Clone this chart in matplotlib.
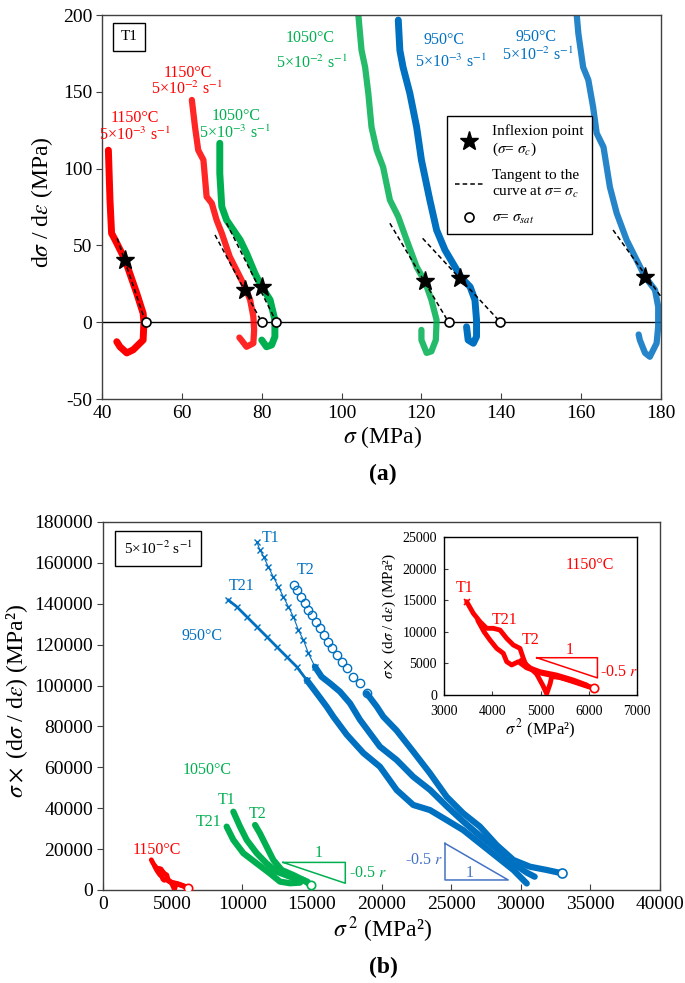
import numpy as np
import matplotlib.pyplot as plt
from matplotlib.lines import Line2D

plt.rcParams['font.family'] = ['Liberation Serif', 'DejaVu Serif']
plt.rcParams['mathtext.fontset'] = 'stix'
plt.rcParams['axes.unicode_minus'] = False

W, H = 685, 983
RED = '#ff0000'
GREEN = '#00b050'
BLUE = '#0070c0'
BLUE2 = '#4472c4'
FRAME = '#404040'

# ---------- (a) T1 : dsigma/deps vs sigma (MPa) ----------
s_1150_slow = [41.6, 42.0, 42.4, 43.3, 45.8, 48.7, 50.3, 50.5, 50.3, 47.8, 46.2, 44.5, 43.7]
d_1150_slow = [112, 79.6, 57.9, 53.5, 40.5, 18.8, 5.8, 0, -11.6, -18, -20, -16, -12.7]

s_1150_fast = [62.5, 63.3, 64.1, 65.4, 66.2, 67.5, 68.7, 70.0, 72.0, 74.1, 75.8, 77.1, 77.9, 78.1, 77.9, 76.2, 74.9, 74.4]
d_1150_fast = [144.7, 127, 112, 105.6, 81.7, 77.4, 66.5, 57.9, 42.6, 31.8, 23, 14.5, 3.7, -5, -13.7, -16, -11.6, -10]

s_1050_slow = [69.5, 69.5, 70.0, 71.2, 72.9, 74.6, 76.2, 78.3, 80.0, 82.1, 83.3, 83.3, 82.5, 81.2, 80.0]
d_1050_slow = [116.5, 96.9, 75.2, 66.5, 60, 53.5, 44.9, 31.8, 23, 14.5, 1.4, -9.4, -14.8, -16, -11.6]

s_1050_fast = [104.2, 105.0, 105.9, 106.7, 107.5, 108.8, 110.4, 112.1, 114.2, 116.3, 118.8, 120.9, 122.5, 123.8, 123.6, 122.5, 121.3, 120.0, 120.0]
d_1050_fast = [200, 177, 166, 149, 127, 112, 101, 79.6, 68.7, 53.5, 36, 26.4, 14.5, 1.4, -11.6, -19, -20, -11.6, -5]

s_950_slow = [114.2, 114.6, 115.4, 117.1, 118.8, 120.0, 122.1, 123.8, 125.9, 128.4, 130.1, 132.2, 133.4, 133.8, 133.8, 133.0, 131.7, 131.3]
d_950_slow = [196.7, 177, 166, 149, 127, 105.6, 79.6, 60, 47, 36, 28.6, 23, 14.5, 1.4, -9.4, -13.7, -11.6, -3]

s_950_fast = [158.9, 159.3, 160.5, 161.8, 163.0, 163.9, 165.6, 167.2, 168.9, 171.4, 173.9, 176.0, 178.5, 179.3, 179.3, 178.9, 177.2, 176.0, 174.7, 174.4]
d_950_fast = [200, 188, 166, 157.7, 140, 123, 114, 88, 71, 53.5, 40.5, 29.6, 21, 10, -2.8, -13.7, -22.5, -20, -11.6, -8]

star_s = [45.8, 75.8, 80.0, 120.9, 129.7, 176.0]
star_d = [40.5, 21.0, 22.6, 26.8, 28.6, 29.6]
sat_s = [50.9, 80.0, 83.7, 126.8, 139.8]
tan_s = [(43.8, 50.9), (68.3, 80.0), (71.2, 83.7), (112.1, 126.8), (120.3, 139.8), (168.0, 180.0)]
tan_d = [(54.6, 0), (56.8, 0), (64.4, 0), (64.4, 0), (54.6, 0), (60.0, 16.6)]

# ---------- (b) sigma*(dsigma/deps) vs sigma^2, 5e-2 s-1 ----------
x950_T1 = [11040, 11270, 11560, 11870, 12230, 12590, 12950, 13310, 13670, 14030, 14390, 14750, 15220, 15700,
           16300, 17020, 17740, 18460, 19890, 21090, 22280, 23480, 24680, 25870, 27070, 28270, 29470, 30430, 31000]
y950_T1 = [170400, 166300, 162700, 158100, 153200, 148400, 143500, 138600, 133700, 127200, 122300, 115800, 109200, 104300,
           101100, 97000, 91300, 83200, 70100, 63600, 55400, 49000, 41000, 33500, 26500, 20000, 13000, 8500, 6500]
x950_T2 = [13720, 13960, 14200, 14510, 14750, 14990, 15300, 15580, 15870, 16180, 16470, 16780, 17140, 17500, 17980,
           18460, 18940, 19660, 20130, 21090, 22280, 23480, 24680, 25870, 27070, 28270, 29470, 30660, 31860, 32940]
y950_T2 = [149200, 146700, 143500, 140200, 137000, 134500, 131200, 128000, 124700, 121500, 118200, 114900, 111700, 108400, 104300,
           101100, 96200, 89700, 84800, 78000, 67700, 57100, 45600, 37500, 31000, 22000, 14700, 11400, 9800, 8200]
x950_T21 = [9000, 9600, 10320, 11040, 11760, 12470, 13190, 13910, 14630, 15350, 16060, 16540, 17500, 18700, 19890,
            21090, 22280, 23480, 24680, 25870, 27070, 28270, 29470, 30430]
y950_T21 = [141800, 138600, 133700, 128800, 123900, 119000, 114100, 109200, 102700, 96200, 89700, 84800, 76000, 67000, 60300,
            48900, 41600, 39100, 34200, 29300, 22800, 16300, 9800, 3200]

x1050_T1 = [9360, 9840, 10320, 11040, 11750, 12470, 13430, 14390, 14700]
y1050_T1 = [38300, 31000, 24500, 18000, 13000, 9000, 6500, 4900, 4000]
x1050_T2 = [10920, 11270, 11750, 12230, 12830, 13670, 14390, 14920]
y1050_T2 = [31800, 27700, 21200, 14700, 9800, 7300, 4900, 2400]
x1050_T21 = [8880, 9360, 10080, 11040, 11990, 12710, 13430, 14150]
y1050_T21 = [31000, 24500, 18000, 13000, 8100, 4100, 3300, 3600]

x1150_T1 = [3470, 3608, 3746, 3884, 4022, 4161, 4299, 4437, 4575, 4644, 4713, 4990, 5335, 5680, 5957]
y1150_T1 = [14760, 12920, 11600, 10550, 10550, 10280, 8960, 7910, 7380, 5800, 4480, 3690, 3160, 2370, 1580]
x1150_T21 = [3700, 3830, 3953, 4092, 4230, 4299, 4403, 4541, 4713, 4990, 5335, 5680, 5957, 6109]
y1150_T21 = [11800, 10000, 8700, 7380, 6590, 5270, 4750, 5270, 4300, 3500, 2900, 2200, 1500, 1060]
x1150_T2 = [4600, 4800, 4921, 5050, 5128, 5200, 5232, 5400, 5680, 5957, 6109]
y1150_T2 = [5500, 4200, 3300, 1500, 200, 1800, 2900, 2800, 2100, 1400, 1060]

tri_green_x = [12930, 17400, 17400, 12930]
tri_green_y = [13500, 13500, 3300, 13500]
tri_blue_x = [24560, 24560, 29100, 24560]
tri_blue_y = [22800, 4900, 4900, 22800]
tri_red_x = [4921, 6180, 6180, 4921]
tri_red_y = [5900, 5900, 2700, 5900]

fig = plt.figure(figsize=(W / 100, H / 100), dpi=100)


def box(l, t, r, b):
    return [l / W, 1 - b / H, (r - l) / W, (b - t) / H]


def ftxt(px, py, s, **kw):
    kw.setdefault('ha', 'center')
    kw.setdefault('va', 'center')
    fig.text(px / W, 1 - py / H, s, **kw)


def style(ax, size=14):
    for sp in ax.spines.values():
        sp.set_color(FRAME)
        sp.set_linewidth(1.0)
    ax.tick_params(axis='x', direction='in', length=4, labelsize=size, color=FRAME, pad=4)
    ax.tick_params(axis='y', direction='out', length=4, labelsize=size, color=FRAME, pad=3)


# ---------------- panel (a) ----------------
ax = fig.add_axes(box(102, 15, 661, 399))
ax.axhline(0, color='black', lw=1, zorder=1)
curve = dict(lw=5, solid_capstyle='round', solid_joinstyle='round', zorder=2)
hatch = dict(lw=4.5, alpha=0.85, solid_capstyle='round', solid_joinstyle='round', zorder=2)
ax.plot(s_1150_slow, d_1150_slow, color=RED, **curve)
ax.plot(s_1150_fast, d_1150_fast, color=RED, **hatch)
ax.plot(s_1050_slow, d_1050_slow, color=GREEN, **curve)
ax.plot(s_1050_fast, d_1050_fast, color=GREEN, **hatch)
ax.plot(s_950_slow, d_950_slow, color=BLUE, **curve)
ax.plot(s_950_fast, d_950_fast, color=BLUE, **hatch)
for xs, ys in zip(tan_s, tan_d):
    ax.plot(xs, ys, color='black', lw=1.1, dashes=(3, 2), zorder=3)
ax.plot(star_s, star_d, '*', ms=14, color='black', zorder=5)
ax.plot(sat_s, [0] * len(sat_s), 'o', ms=6.5, mfc='white', mec='black', mew=1.2, zorder=5)
ax.set_xlim(40, 180)
ax.set_ylim(-50, 200)
ax.set_xticks(np.arange(40, 181, 20))
ax.set_yticks(np.arange(-50, 201, 50))
style(ax)

handles = [Line2D([], [], ls='none', marker='*', ms=14, color='black'),
           Line2D([], [], color='black', lw=1.1, dashes=(3, 2)),
           Line2D([], [], ls='none', marker='o', ms=6.5, mfc='white', mec='black', mew=1.2)]
labels = ['Inflexion point\n($\\sigma$= $\\sigma_c$)',
          'Tangent to the\ncurve at $\\sigma$= $\\sigma_c$',
          '$\\sigma$= $\\sigma_{sat}$']
leg = ax.legend(handles, labels, loc='upper left',
                bbox_to_anchor=((447 - 102) / 559, (399 - 116) / 384), borderaxespad=0,
                fontsize=11, frameon=True, fancybox=False, edgecolor='black', framealpha=1,
                handlelength=1.8, labelspacing=0.75, borderpad=0.55, handletextpad=0.6)
leg.get_frame().set_linewidth(1.0)

ax.text(0.048, 0.943, 'T1', transform=ax.transAxes, fontsize=11, ha='center', va='center',
        bbox=dict(boxstyle='square,pad=0.5', fc='white', ec='black', lw=1))

ftxt(135, 118, '1150°C', color=RED, fontsize=11.5)
ftxt(135, 135, '5×10$^{-3}$ s$^{-1}$', color=RED, fontsize=11.5)
ftxt(187.5, 73, '1150°C', color=RED, fontsize=11.5)
ftxt(186.5, 89.5, '5×10$^{-2}$ s$^{-1}$', color=RED, fontsize=11.5)
ftxt(236, 116, '1050°C', color=GREEN, fontsize=11.5)
ftxt(234.5, 133.5, '5×10$^{-3}$ s$^{-1}$', color=GREEN, fontsize=11.5)
ftxt(310, 38, '1050°C', color=GREEN, fontsize=11.5)
ftxt(311.5, 63, '5×10$^{-2}$ s$^{-1}$', color=GREEN, fontsize=11.5)
ftxt(444, 40, '950°C', color=BLUE, fontsize=11.5)
ftxt(451, 62, '5×10$^{-3}$ s$^{-1}$', color=BLUE, fontsize=11.5)
ftxt(535.5, 37, '950°C', color=BLUE, fontsize=11.5)
ftxt(537.5, 55, '5×10$^{-2}$ s$^{-1}$', color=BLUE, fontsize=11.5)

ftxt(42, 202, 'd$\\sigma$ / d$\\varepsilon$ (MPa)', fontsize=17, rotation=90)
ftxt(383, 437, '$\\sigma$ (MPa)', fontsize=17)
ftxt(383, 474, '(a)', fontsize=17, fontweight='bold')

# ---------------- panel (b) ----------------
bx = fig.add_axes(box(103, 522, 660, 890))


def blue_curve(x, y, marker, ms, dense_from):
    x = np.asarray(x, float)
    y = np.asarray(y, float)
    m = x >= dense_from
    bx.plot(x[~m], y[~m], ls='none', marker=marker, ms=ms, mfc='none', mec=BLUE, mew=1.0, zorder=3)
    k = max(np.argmax(m) - 1, 0)
    bx.plot(x[k:], y[k:], color=BLUE, lw=4.5, solid_capstyle='round', solid_joinstyle='round', zorder=3)


bx.plot(x950_T1[:18], y950_T1[:18], color=BLUE, lw=0.8, zorder=2)
blue_curve(x950_T1, y950_T1, 'x', 4.5, 15600)
blue_curve(x950_T2, y950_T2, 'o', 6, 19000)
bx.plot(x950_T21, y950_T21, color=BLUE, lw=2, zorder=2)
blue_curve(x950_T21, y950_T21, 'x', 5, 15000)
bx.plot(x950_T2[-1], y950_T2[-1], 'o', ms=6.5, mfc='white', mec=BLUE, mew=1.2, zorder=4)

g = dict(color=GREEN, lw=4.5, solid_capstyle='round', solid_joinstyle='round', zorder=3)
bx.plot(x1050_T1, y1050_T1, **g)
bx.plot(x1050_T2, y1050_T2, **g)
bx.plot(x1050_T21, y1050_T21, **g)
bx.plot(x1050_T2[-1], y1050_T2[-1], 'o', ms=6, mfc='white', mec=GREEN, mew=1.2, zorder=4)

r = dict(color=RED, lw=3.5, solid_capstyle='round', solid_joinstyle='round', zorder=3)
bx.plot(x1150_T1, y1150_T1, **r)
bx.plot(x1150_T21, y1150_T21, **r)
bx.plot(x1150_T2, y1150_T2, **r)
bx.plot(x1150_T2[-1], y1150_T2[-1], 'o', ms=6, mfc='white', mec=RED, mew=1.2, zorder=4)

bx.plot(tri_green_x, tri_green_y, color=GREEN, lw=1.1, zorder=2)
bx.plot(tri_blue_x, tri_blue_y, color=BLUE2, lw=1.1, zorder=2)

bx.set_xlim(0, 40000)
bx.set_ylim(0, 180000)
bx.set_xticks(np.arange(0, 40001, 5000))
bx.set_yticks(np.arange(0, 180001, 20000))
style(bx)

ftxt(158, 548.5, '5×10$^{-2}$ s$^{-1}$', fontsize=11,
     bbox=dict(boxstyle='square,pad=0.55', fc='white', ec='black', lw=1))
ftxt(271, 537.5, 'T1', color=BLUE, fontsize=11.5)
ftxt(306, 570, 'T2', color=BLUE, fontsize=11.5)
ftxt(241.5, 586.5, 'T21', color=BLUE, fontsize=11.5)
ftxt(201.5, 635.5, '950°C', color=BLUE, fontsize=11.5)
ftxt(207, 770, '1050°C', color=GREEN, fontsize=11.5)
ftxt(226.5, 799.5, 'T1', color=GREEN, fontsize=11.5)
ftxt(257.5, 813.5, 'T2', color=GREEN, fontsize=11.5)
ftxt(208.5, 822, 'T21', color=GREEN, fontsize=11.5)
ftxt(156.5, 850, '1150°C', color=RED, fontsize=11.5)
ftxt(318.5, 853, '1', color=GREEN, fontsize=11.5)
ftxt(349, 873, '-0.5 $r$', color=GREEN, fontsize=11.5, ha='left')
ftxt(443, 860, '-0.5 $r$', color=BLUE2, fontsize=11.5, ha='right')
ftxt(470, 873, '1', color=BLUE2, fontsize=11.5)

ftxt(17, 701, '$\\sigma\\times$ (d$\\sigma$ / d$\\varepsilon$) (MPa²)', fontsize=17, rotation=90)
ftxt(383, 930, '$\\sigma^{\\,2}$ (MPa²)', fontsize=17)
ftxt(383, 967, '(b)', fontsize=17, fontweight='bold')

# ---------------- inset ----------------
ix = fig.add_axes(box(444, 537, 637, 695))
ix.plot(x1150_T1, y1150_T1, **r)
ix.plot(x1150_T21, y1150_T21, **r)
ix.plot(x1150_T2, y1150_T2, **r)
ix.plot(x1150_T1[0], y1150_T1[0], 'x', ms=5, mew=1.2, color=RED, zorder=4)
ix.plot(x1150_T2[-1], y1150_T2[-1], 'o', ms=6, mfc='white', mec=RED, mew=1.2, zorder=4)
ix.plot(tri_red_x, tri_red_y, color=RED, lw=1.1)
ix.set_xlim(3000, 7000)
ix.set_ylim(0, 25000)
ix.set_xticks(np.arange(3000, 7001, 1000))
ix.set_yticks(np.arange(0, 25001, 5000))
for sp in ix.spines.values():
    sp.set_color('black')
    sp.set_linewidth(1.0)
ix.tick_params(axis='x', direction='in', length=3, labelsize=10, color=FRAME, pad=7)
ix.tick_params(axis='y', direction='in', length=3, labelsize=10, color=FRAME, pad=5)

ftxt(589.5, 565, '1150°C', color=RED, fontsize=11.5)
ftxt(465, 588.5, 'T1', color=RED, fontsize=11.5)
ftxt(505, 620, 'T21', color=RED, fontsize=11.5)
ftxt(531, 640, 'T2', color=RED, fontsize=11.5)
ftxt(570, 650, '1', color=RED, fontsize=11.5)
ftxt(600.5, 671.5, '-0.5 $r$', color=RED, fontsize=11.5, ha='left')
ftxt(389, 616, '$\\sigma\\times$ (d$\\sigma$ / d$\\varepsilon$) (MPa²)', fontsize=11, rotation=90)
ftxt(540, 729, '$\\sigma^{\\,2}$ (MPa²)', fontsize=12)

fig.savefig('out.png', dpi=100)
